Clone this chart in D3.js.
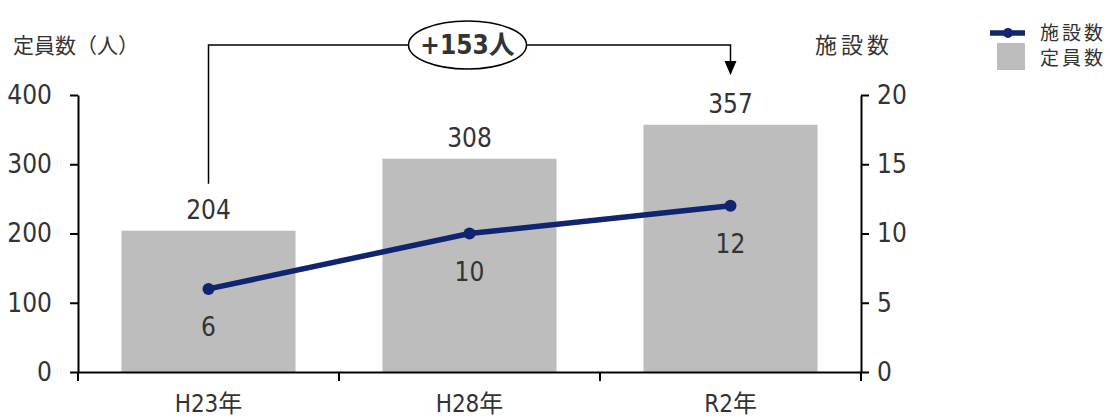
<!DOCTYPE html>
<html>
<head>
<meta charset="utf-8">
<script src="https://cdn.jsdelivr.net/npm/d3@7"></script>
<style>
  body { margin: 0; background: #fff; }
  text { font-family: "Liberation Sans Narrow", "DejaVu Sans Condensed", "Liberation Sans", "Noto Sans CJK JP", sans-serif; fill: #333; }
  .jp { font-family: "Noto Sans CJK JP", sans-serif; }
</style>
</head>
<body>
<div id="chart"></div>
<script>
// data
const years = ['H23年', 'H28年', 'R2年'];
const capacity = [204, 308, 357];     // 定員数（人）
const facilities = [6, 10, 12];       // 施設数
const leftTicks = [0, 100, 200, 300, 400];
const rightTicks = [0, 5, 10, 15, 20];
const diffLabel = '+153人';

const W = 1110, H = 419;
const margin = {top: 95, right: 249, bottom: 47, left: 78};
const w = W - margin.left - margin.right;
const h = H - margin.top - margin.bottom;
const navy = '#112470';

let svg = d3.select('#chart').append('svg')
  .attr('width', W)
  .attr('height', H);

let g = svg.append('g')
  .attr('transform', `translate(${margin.left}, ${margin.top})`);

let x = d3.scaleBand().domain(years).range([0, w]).paddingInner(0.333).paddingOuter(0.1665);
let xb = d3.scaleBand().domain(years).range([0, w]);  // band edges for ticks
let yL = d3.scaleLinear().domain([0, 400]).range([h, 0]);
let yR = d3.scaleLinear().domain([0, 20]).range([h, 0]);

// bars
g.selectAll('rect.bar')
  .data(capacity)
  .enter()
  .append('rect')
    .attr('class', 'bar')
    .attr('x', (d, i) => x(years[i]))
    .attr('y', d => yL(d))
    .attr('width', x.bandwidth())
    .attr('height', d => h - yL(d))
    .attr('fill', '#bdbdbd');

// bar labels
g.selectAll('text.barlab')
  .data(capacity)
  .enter()
  .append('text')
    .attr('class', 'barlab')
    .attr('x', (d, i) => x(years[i]) + x.bandwidth() / 2)
    .attr('y', d => yL(d) - 12)
    .attr('text-anchor', 'middle')
    .style('font-size', '26px')
    .text(d => d);

// line
let cx = (d, i) => xb(years[i]) + xb.bandwidth() / 2;
let line = d3.line()
  .x((d, i) => cx(d, i))
  .y(d => yR(d));

g.append('path')
  .attr('d', line(facilities))
  .attr('fill', 'none')
  .attr('stroke', navy)
  .attr('stroke-width', 5.5);

g.selectAll('circle')
  .data(facilities)
  .enter()
  .append('circle')
    .attr('cx', cx)
    .attr('cy', d => yR(d))
    .attr('r', 6)
    .attr('fill', navy);

g.selectAll('text.linelab')
  .data(facilities)
  .enter()
  .append('text')
    .attr('class', 'linelab')
    .attr('x', cx)
    .attr('y', d => yR(d) + 47)
    .attr('text-anchor', 'middle')
    .style('font-size', '26px')
    .text(d => d);

// axes
let styleAxis = (sel) => {
  sel.select('.domain').attr('stroke', '#000').attr('stroke-width', 2);
  sel.selectAll('.tick line').attr('stroke', '#000').attr('stroke-width', 2);
  sel.selectAll('.tick text').style('font-size', '26px').attr('fill', '#333');
};

g.append('g')
  .call(d3.axisLeft(yL).tickValues(leftTicks).tickSize(8).tickSizeOuter(0).tickPadding(18))
  .call(styleAxis);

g.append('g')
  .attr('transform', `translate(${w}, 0)`)
  .call(d3.axisRight(yR).tickValues(rightTicks).tickSize(8).tickSizeOuter(0).tickPadding(8))
  .call(styleAxis);

let xAxisG = g.append('g')
  .attr('transform', `translate(0, ${h})`)
  .call(d3.axisBottom(xb).tickSize(0).tickSizeOuter(0).tickPadding(23))
  .call(styleAxis);
xAxisG.selectAll('.tick text').style('font-size', '24px');

// band boundary ticks on x axis
xAxisG.selectAll('line.sep')
  .data(d3.range(years.length + 1))
  .enter()
  .append('line')
    .attr('class', 'sep')
    .attr('x1', i => i * xb.step())
    .attr('x2', i => i * xb.step())
    .attr('y1', 0)
    .attr('y2', 9)
    .attr('stroke', '#000')
    .attr('stroke-width', 2);

// axis titles
svg.append('text').attr('class', 'jp')
  .attr('x', 13).attr('y', 53)
  .style('font-size', '21px')
  .text('定員数（人）');

svg.append('text').attr('class', 'jp')
  .attr('x', 815).attr('y', 53)
  .style('font-size', '22px')
  .attr('letter-spacing', '4px')
  .text('施設数');

// annotation bracket
let yTop = 45 - margin.top;
let x0 = cx(null, 0), x2 = cx(null, 2);
let bracket = g.append('g');
bracket.append('path')
  .attr('d', `M${x0},${yL(capacity[0]) - 47} V${yTop} H${x2} V${yTop + 18}`)
  .attr('fill', 'none')
  .attr('stroke', '#000')
  .attr('stroke-width', 1.5);
bracket.append('path')
  .attr('d', `M${x2 - 6},${yTop + 16} L${x2 + 6},${yTop + 16} L${x2},${yTop + 30} Z`)
  .attr('fill', '#000');
let ex = (x0 + x2) / 2 - 2;
bracket.append('ellipse')
  .attr('cx', ex).attr('cy', yTop)
  .attr('rx', 59).attr('ry', 24)
  .attr('fill', '#fff')
  .attr('stroke', '#000')
  .attr('stroke-width', 1.5);
bracket.append('text')
  .attr('x', ex).attr('y', yTop + 9)
  .attr('text-anchor', 'middle')
  .style('font-size', '26px')
  .style('font-weight', 'bold')
  .attr('fill', '#222')
  .text(diffLabel);

// legend
let legend = svg.append('g').attr('transform', 'translate(990, 0)');
legend.append('line')
  .attr('x1', 0).attr('x2', 35).attr('y1', 33).attr('y2', 33)
  .attr('stroke', navy).attr('stroke-width', 5.5);
legend.append('circle')
  .attr('cx', 18).attr('cy', 33).attr('r', 5).attr('fill', navy);
legend.append('rect')
  .attr('x', 7).attr('y', 43).attr('width', 28).attr('height', 27)
  .attr('fill', '#bdbdbd');
legend.append('text').attr('class', 'jp')
  .attr('x', 50).attr('y', 40)
  .style('font-size', '19px')
  .attr('letter-spacing', '3px')
  .text('施設数');
legend.append('text').attr('class', 'jp')
  .attr('x', 50).attr('y', 65)
  .style('font-size', '19px')
  .attr('letter-spacing', '3px')
  .text('定員数');
</script>
</body>
</html>
